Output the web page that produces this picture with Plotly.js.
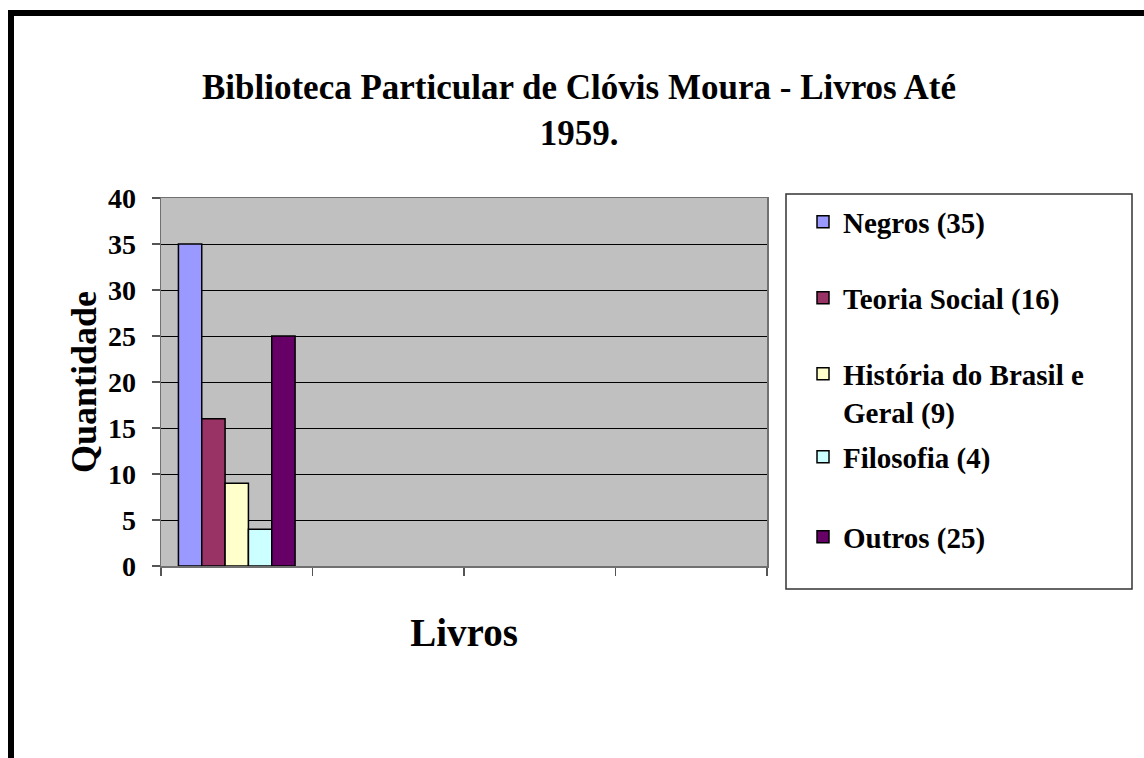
<!DOCTYPE html>
<html>
<head>
<meta charset="utf-8">
<script src="https://cdn.plot.ly/plotly-3.0.1.min.js"></script>
<style>
  html, body { margin: 0; padding: 0; background: #fff; overflow: hidden; }
  #chart { position: absolute; left: 0; top: 0; width: 1144px; height: 758px; }
  #frame { position: absolute; left: 8px; top: 10px; width: 1200px; height: 900px;
           border-left: 6px solid #000; border-top: 6px solid #000; pointer-events: none; }
</style>
</head>
<body>
<div id="chart"></div>
<div id="frame"></div>
<script>
// ---- data ----
const categories = ["Livros"];
const seriesNames = ["Negros (35)", "Teoria Social (16)", "História do Brasil e<br>Geral (9)", "Filosofia (4)", "Outros (25)"];
const seriesValues = [35, 16, 9, 4, 25];
const seriesColors = ["#9999FF", "#993366", "#FFFFCC", "#CCFFFF", "#660066"];
const yTickValues = [0, 5, 10, 15, 20, 25, 30, 35, 40];
const xCategorySlots = 4;

const W = 1144, H = 758;
const serif = "Liberation Serif, Times New Roman, Times, serif";
const legendCenters = [222, 298, 393, 457, 537];

const traces = seriesNames.map((name, i) => ({
  type: "bar",
  name: name,
  x: categories.map((c, k) => k),
  y: [seriesValues[i]],
  hovertext: categories,
  marker: { color: seriesColors[i], line: { color: "#000", width: 1.5 } },
  legend: i === 0 ? "legend" : "legend" + (i + 1)
}));

const legendBase = {
  xref: "container", yref: "container",
  x: 803 / W, xanchor: "left", yanchor: "middle",
  bgcolor: "rgba(0,0,0,0)", borderwidth: 0, valign: "top",
  font: { family: serif, size: 29, weight: "bold", color: "#000" }
};

const layout = {
  width: W, height: H,
  paper_bgcolor: "#fff", plot_bgcolor: "#C0C0C0",
  margin: { l: 161, r: W - 767, t: 198, b: H - 566, autoexpand: false },
  barmode: "group", bargap: 0.23, bargroupgap: 0,
  showlegend: true,
  title: {
    text: "Biblioteca Particular de Clóvis Moura - Livros Até<br>1959.",
    font: { family: serif, size: 35, weight: "bold", color: "#000" },
    xref: "container", yref: "container", x: 579 / W, xanchor: "center",
    y: 1 - 99 / H, yanchor: "top"
  },
  xaxis: {
    type: "linear", range: [-0.5, xCategorySlots - 0.5],
    tickmode: "array", tickvals: [-0.5, 0.5, 1.5, 2.5, 3.5], showticklabels: false,
    ticks: "outside", ticklen: 8, tickcolor: "#555", tickwidth: 1.5,
    showgrid: false, zeroline: false,
    showline: true, linecolor: "#707070", linewidth: 1.5, mirror: true,
    title: { text: "Livros", font: { family: serif, size: 39, weight: "bold", color: "#000" }, standoff: 44 }
  },
  yaxis: {
    range: [0, 40], tickmode: "array", tickvals: yTickValues,
    ticks: "outside", ticklen: 8, tickcolor: "#555", tickwidth: 1.5,
    ticklabelstandoff: 10,
    tickfont: { family: serif, size: 28, weight: "bold", color: "#000" },
    showgrid: true, gridcolor: "#000", gridwidth: 1,
    zeroline: false,
    showline: true, linecolor: "#707070", linewidth: 1.5, mirror: true,
    title: { text: "Quantidade", font: { family: serif, size: 36, weight: "bold", color: "#000" }, standoff: 0 }
  },
  shapes: [{
    type: "rect", xref: "paper", yref: "paper",
    x0: (786 - 161) / 606, x1: (1132 - 161) / 606,
    y0: (566 - 589) / 368, y1: (566 - 194) / 368,
    line: { color: "#333", width: 1.5 }, fillcolor: "rgba(0,0,0,0)"
  }]
};

legendCenters.forEach((c, i) => {
  const key = i === 0 ? "legend" : "legend" + (i + 1);
  layout[key] = Object.assign({}, legendBase, { y: 1 - c / H });
});

Plotly.newPlot("chart", traces, layout, { displayModeBar: false, staticPlot: true });
</script>
</body>
</html>
